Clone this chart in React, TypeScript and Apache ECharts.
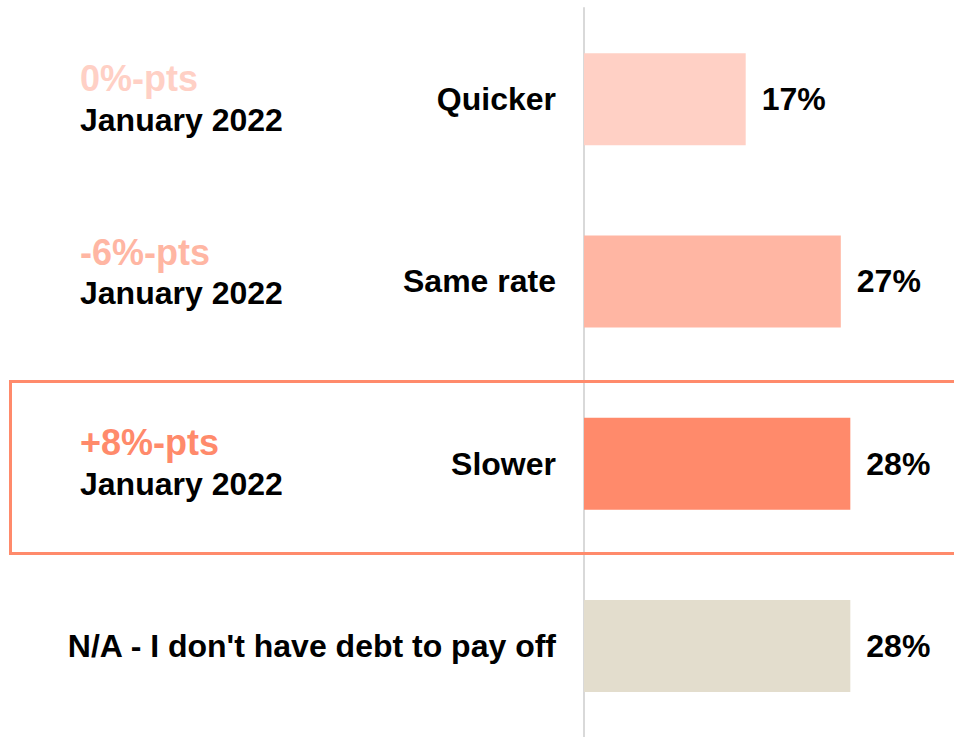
import React, { useEffect, useRef } from "react";
import * as echarts from "echarts";

const categories = ["Quicker", "Same rate", "Slower", "N/A - I don't have debt to pay off"];
const values = [17, 27, 28, 28];
const barColors = ["#ffd0c5", "#ffb6a3", "#ff8a6b", "#e3ddcd"];
const changeLabels = ["0%-pts", "-6%-pts", "+8%-pts"];
const changeColors = ["#ffd0c5", "#ffb6a3", "#ff8a6b"];
const periodLabel = "January 2022";

const FONT = "'Liberation Sans', Arial, Helvetica, sans-serif";

export default function App() {
  const ref = useRef<HTMLDivElement>(null);
  useEffect(() => {
    if (!ref.current) return;
    const chart = echarts.init(ref.current, null, { renderer: "svg" });
    const pairY = [
      [78, 120],
      [252, 293],
      [442, 484],
    ];
    const graphics: any[] = [
      {
        type: "rect",
        z: 1,
        shape: { x: 10.5, y: 381.5, width: 960, height: 172 },
        style: { fill: "none", stroke: "#ff8a6b", lineWidth: 3 },
      },
    ];
    changeLabels.forEach((t, i) => {
      graphics.push({
        type: "text",
        x: 80,
        y: pairY[i][0],
        style: {
          text: t,
          fill: changeColors[i],
          font: `bold 36px ${FONT}`,
          textAlign: "left",
          textVerticalAlign: "middle",
        },
      });
      graphics.push({
        type: "text",
        x: 80,
        y: pairY[i][1],
        style: {
          text: periodLabel,
          fill: "#000",
          font: `bold 32px ${FONT}`,
          textAlign: "left",
          textVerticalAlign: "middle",
        },
      });
    });
    chart.setOption({
      animation: false,
      grid: { left: 584, right: 0, top: 8, height: 732, containLabel: false },
      xAxis: { type: "value", min: 0, max: 38.9, show: false },
      yAxis: {
        type: "category",
        data: categories,
        inverse: true,
        axisTick: { show: false },
        axisLine: { show: true, lineStyle: { color: "#d9d9d9", width: 2 } },
        axisLabel: {
          color: "#000",
          fontSize: 32,
          fontWeight: "bold",
          fontFamily: FONT,
          margin: 28,
        },
      },
      series: [
        {
          type: "bar",
          barWidth: 92,
          data: values.map((v, i) => ({ value: v, itemStyle: { color: barColors[i] } })),
          label: {
            show: true,
            position: "right",
            distance: 16,
            formatter: "{c}%",
            color: "#000",
            fontSize: 32,
            fontWeight: "bold",
            fontFamily: FONT,
          },
        },
      ],
      graphic: graphics,
    });
    return () => chart.dispose();
  }, []);
  return (
    <div
      ref={ref}
      style={{ position: "fixed", left: 0, top: 0, width: 954, height: 737, background: "#fff" }}
    />
  );
}
